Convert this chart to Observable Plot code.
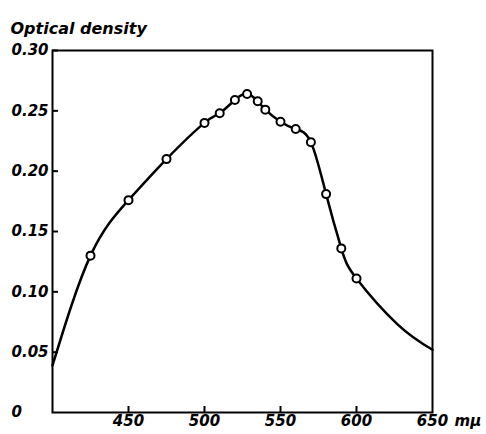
<!DOCTYPE html>
<html>
<head>
<meta charset="utf-8">
<script src="https://cdn.jsdelivr.net/npm/d3@7"></script>
<script src="https://cdn.jsdelivr.net/npm/@observablehq/plot@0.6"></script>
<style>
  html, body { margin: 0; padding: 0; background: white; }
  svg text { font-family: "DejaVu Sans", sans-serif; }
</style>
</head>
<body>
<div id="chart"></div>
<script>
// Measured points (circles)
const wavelengths = [425, 450, 475, 500, 510, 520, 528, 535, 540, 550, 560, 570, 580, 590, 600];
const densities   = [0.130, 0.176, 0.210, 0.240, 0.248, 0.259, 0.264, 0.258, 0.251, 0.241, 0.235, 0.224, 0.181, 0.136, 0.111];

// Extra readings of the drawn curve beyond the measured points
const curveExtraX = [400, 627, 650];
const curveExtraY = [0.039, 0.073, 0.052];

// Axis ticks
const xTicks = [450, 500, 550, 600, 650];
const xTickMarks = [450, 500, 550, 600];
const yTicks = [0, 0.05, 0.10, 0.15, 0.20, 0.25, 0.30];
const yTickMarks = [0.05, 0.10, 0.15, 0.20, 0.25, 0.30];

const titleText = "Optical density";
const unitText = "mμ";

const points = wavelengths.map((x, i) => ({x, y: densities[i]}));
const curve = points
  .concat(curveExtraX.map((x, i) => ({x, y: curveExtraY[i]})))
  .sort((a, b) => a.x - b.x);

const W = 486, H = 434;
const mL = 52, mR = 54, mT = 50, mB = 22;
const plotW = W - mL - mR, plotH = H - mT - mB;
const tickLen = 6;
const font = {fontSize: 15, fontStyle: "italic", fontWeight: "bold", fill: "black"};

const chart = Plot.plot({
  width: W, height: H,
  marginLeft: mL, marginRight: mR, marginTop: mT, marginBottom: mB,
  x: {domain: [400, 650], axis: null},
  y: {domain: [0, 0.30], axis: null},
  marks: [
    Plot.frame({stroke: "black", strokeWidth: 2}),
    Plot.tickY(yTickMarks, {y: d => d, insetRight: plotW - tickLen, strokeWidth: 2}),
    Plot.tickX(xTickMarks, {x: d => d, insetTop: plotH - tickLen, strokeWidth: 2}),
    Plot.line(curve, {x: "x", y: "y", curve: "natural", stroke: "black", strokeWidth: 2.5}),
    Plot.dot(points, {x: "x", y: "y", r: 4, fill: "white", stroke: "black", strokeWidth: 2}),
    Plot.text(yTicks, {y: d => d, text: d => d === 0 ? "0" : d.toFixed(2), frameAnchor: "left", textAnchor: "start", dx: -41, ...font}),
    Plot.text(xTicks, {x: d => d, text: d => String(d), frameAnchor: "bottom", dy: 13, ...font}),
    Plot.text([unitText], {frameAnchor: "bottom-right", textAnchor: "start", dx: 22, dy: 13, ...font}),
    Plot.text([titleText], {frameAnchor: "top-left", textAnchor: "start", dx: -42, dy: -28, ...font, fontSize: 16})
  ]
});
document.getElementById("chart").appendChild(chart);
</script>
</body>
</html>
